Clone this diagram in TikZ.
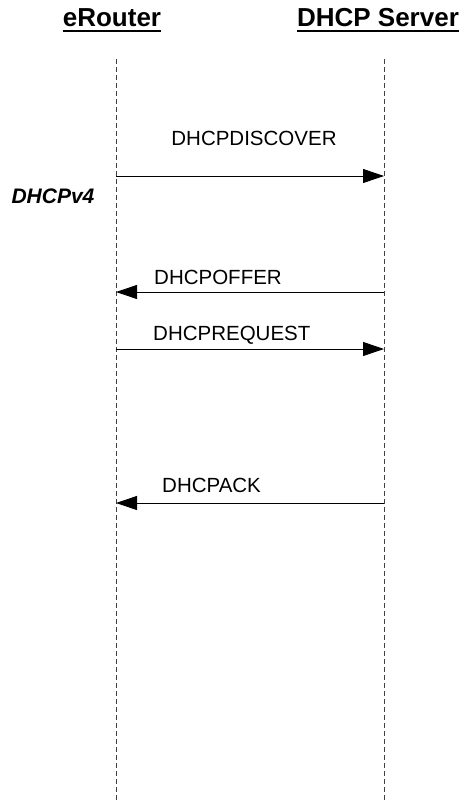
\documentclass[tikz,border=0pt]{standalone}
\usepackage{fontspec}
\setmainfont{Liberation Sans}
\usetikzlibrary{arrows.meta}
\begin{document}
\begin{tikzpicture}[x=1pt,y=-1pt,
  header/.style={font=\fontsize{26}{31}\selectfont\bfseries, anchor=base, inner sep=0pt},
  lbl/.style={font=\fontsize{20.5}{25}\selectfont, inner sep=0pt},
  lifeline/.style={draw=black!75, line width=0.9pt, dash pattern=on 5pt off 3pt},
  msg/.style={draw=black, line width=0.9pt, -{Triangle[length=21pt,width=14pt]}, shorten >=0pt}]
\useasboundingbox (0,0) rectangle (467,803);
\fill[white] (0,0) rectangle (467,803);
% headers
\node[header] (hE) at (112,27) {eRouter};
\node[header] (hS) at (378,27) {DHCP Server};
\draw[line width=2pt] ([yshift=-4pt]hE.base west) -- ([yshift=-4pt]hE.base east);
\draw[line width=2pt] ([yshift=-4pt]hS.base west) -- ([yshift=-4pt]hS.base east);
% lifelines
\coordinate (eT) at (116,59);
\coordinate (eB) at (116,803);
\coordinate (sT) at (384,59);
\coordinate (sB) at (384,803);
\draw[lifeline] (eT) -- (eB);
\draw[lifeline] (sT) -- (sB);
% message endpoints
\coordinate (e1) at (116,176); \coordinate (s1) at (384,176);
\coordinate (e2) at (116,292); \coordinate (s2) at (384,292);
\coordinate (e3) at (116,349); \coordinate (s3) at (384,349);
\coordinate (e4) at (116,503); \coordinate (s4) at (384,503);
\draw[msg] (e1) -- (s1);
\draw[msg] (s2) -- (e2);
\draw[msg] (e3) -- (s3);
\draw[msg] (s4) -- (e4);
% labels
\node[lbl] (l1) at (254,138) {DHCPDISCOVER};
\node[lbl,anchor=west] (l2) at (154,277) {DHCPOFFER};
\node[lbl,anchor=west] (l3) at (153,335) {DHCPREQUEST};
\node[lbl,anchor=west] (l4) at (162,485) {DHCPACK};
\node[font=\fontsize{21}{25}\selectfont\bfseries\itshape, inner sep=0pt] (v4) at (53,196) {DHCPv4};
\end{tikzpicture}
\end{document}
